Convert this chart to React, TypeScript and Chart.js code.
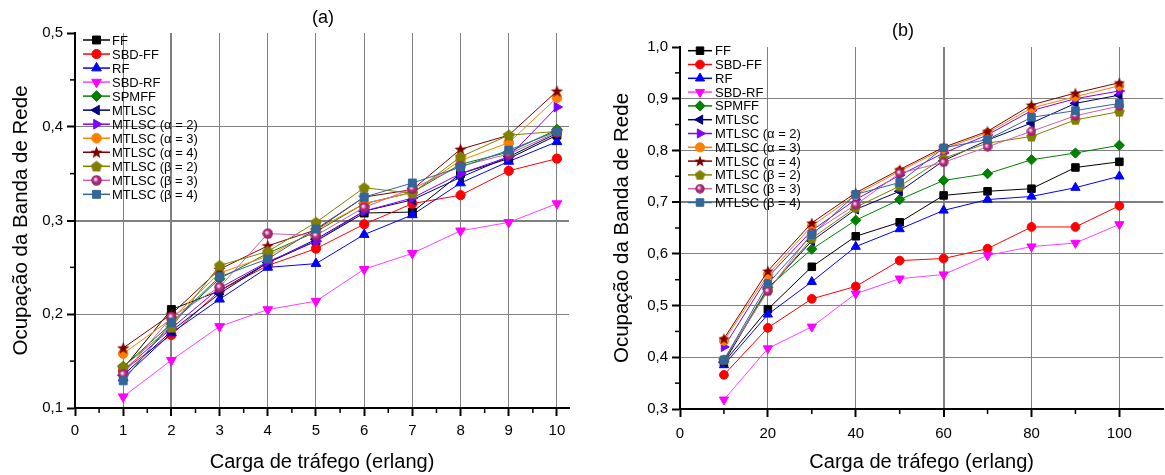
import React, { useEffect, useRef } from 'react';
import { Chart, registerables } from 'chart.js';
import { drawPoint } from 'chart.js/helpers';

Chart.register(...registerables);
Chart.defaults.font.family = "'Liberation Sans', Arial, sans-serif";
Chart.defaults.color = '#000';

// ---------- data ----------
const seriesNames = [
  'FF', 'SBD-FF', 'RF', 'SBD-RF', 'SPMFF', 'MTLSC',
  'MTLSC (α = 2)', 'MTLSC (α = 3)', 'MTLSC (α = 4)',
  'MTLSC (β = 2)', 'MTLSC (β = 3)', 'MTLSC (β = 4)',
];

// (a) load in erlang
const loadA = [1, 2, 3, 4, 5, 6, 7, 8, 9, 10];
const aFF = [0.142, 0.205, 0.225, 0.255, 0.278, 0.308, 0.309, 0.350, 0.366, 0.391];
const aSBDFF = [0.140, 0.178, 0.225, 0.252, 0.270, 0.296, 0.318, 0.327, 0.353, 0.366];
const aRF = [0.132, 0.180, 0.216, 0.250, 0.254, 0.285, 0.306, 0.340, 0.363, 0.384];
const aSBDRF = [0.112, 0.151, 0.187, 0.205, 0.214, 0.248, 0.265, 0.289, 0.298, 0.318];
const aSPMFF = [0.144, 0.190, 0.238, 0.265, 0.288, 0.318, 0.330, 0.360, 0.373, 0.397];
const aMTLSC = [0.135, 0.182, 0.222, 0.255, 0.280, 0.310, 0.322, 0.346, 0.368, 0.393];
const aAlpha2 = [0.140, 0.185, 0.228, 0.256, 0.278, 0.310, 0.324, 0.350, 0.368, 0.421];
const aAlpha3 = [0.158, 0.195, 0.244, 0.262, 0.290, 0.318, 0.330, 0.364, 0.383, 0.431];
const aAlpha4 = [0.164, 0.200, 0.248, 0.273, 0.290, 0.325, 0.333, 0.376, 0.391, 0.438];
const aBeta2 = [0.144, 0.186, 0.252, 0.267, 0.298, 0.335, 0.329, 0.368, 0.391, 0.395];
const aBeta3 = [0.136, 0.197, 0.229, 0.286, 0.284, 0.314, 0.334, 0.358, 0.371, 0.394];
const aBeta4 = [0.129, 0.191, 0.240, 0.259, 0.291, 0.325, 0.340, 0.357, 0.375, 0.395];

// (b) load in erlang
const loadB = [10, 20, 30, 40, 50, 60, 70, 80, 90, 100];
const bFF = [0.390, 0.493, 0.575, 0.634, 0.661, 0.713, 0.721, 0.726, 0.767, 0.778];
const bSBDFF = [0.366, 0.457, 0.513, 0.537, 0.587, 0.591, 0.610, 0.652, 0.652, 0.693];
const bRF = [0.385, 0.483, 0.546, 0.614, 0.648, 0.684, 0.705, 0.711, 0.728, 0.750];
const bSBDRF = [0.318, 0.417, 0.459, 0.523, 0.552, 0.560, 0.597, 0.614, 0.621, 0.657];
const bSPMFF = [0.392, 0.535, 0.609, 0.665, 0.705, 0.742, 0.755, 0.782, 0.795, 0.810];
const bMTLSC = [0.390, 0.532, 0.625, 0.686, 0.721, 0.780, 0.820, 0.853, 0.891, 0.907];
const bAlpha2 = [0.420, 0.555, 0.645, 0.705, 0.752, 0.795, 0.830, 0.877, 0.900, 0.915];
const bAlpha3 = [0.432, 0.560, 0.654, 0.714, 0.760, 0.803, 0.834, 0.882, 0.904, 0.925];
const bAlpha4 = [0.436, 0.567, 0.660, 0.718, 0.763, 0.806, 0.837, 0.888, 0.911, 0.931];
const bBeta2 = [0.395, 0.530, 0.630, 0.690, 0.731, 0.785, 0.814, 0.827, 0.859, 0.875];
const bBeta3 = [0.395, 0.528, 0.640, 0.695, 0.756, 0.777, 0.807, 0.837, 0.867, 0.886];
const bBeta4 = [0.395, 0.542, 0.637, 0.715, 0.738, 0.805, 0.821, 0.864, 0.877, 0.891];

// tick labels
const ticksAX = [0, 1, 2, 3, 4, 5, 6, 7, 8, 9, 10];
const ticksAY = [0.1, 0.2, 0.3, 0.4, 0.5];
const minorAX = [0.5, 1.5, 2.5, 3.5, 4.5, 5.5, 6.5, 7.5, 8.5, 9.5];
const minorAY = [0.15, 0.25, 0.35, 0.45];
const ticksBX = [0, 20, 40, 60, 80, 100];
const ticksBY = [0.3, 0.4, 0.5, 0.6, 0.7, 0.8, 0.9, 1.0];
const minorBX = [10, 30, 50, 70, 90];
const minorBY = [0.35, 0.45, 0.55, 0.65, 0.75, 0.85, 0.95];

const seriesA = [aFF, aSBDFF, aRF, aSBDRF, aSPMFF, aMTLSC, aAlpha2, aAlpha3, aAlpha4, aBeta2, aBeta3, aBeta4];
const seriesB = [bFF, bSBDFF, bRF, bSBDRF, bSPMFF, bMTLSC, bAlpha2, bAlpha3, bAlpha4, bBeta2, bBeta3, bBeta4];

// ---------- styles ----------
const markerColors = ['#000000', '#ff0000', '#0000ff', '#ff00ff', '#008000', '#000080', '#8000ff', '#ff8000', '#800000', '#808000', '#b8307f', '#336699'];
const lineColors = ['#000000', '#ff0000', '#0000ff', '#ff40ff', '#008000', '#000080', '#8000ff', '#ff8000', '#800000', '#808000', '#d060a8', '#336699'];

function makeStar(color: string, size: number) {
  const c = document.createElement('canvas');
  c.width = size; c.height = size;
  const g = c.getContext('2d')!;
  const cx = size / 2, cy = size / 2 + 0.5, R = size / 2, r = R * 0.42;
  g.beginPath();
  for (let k = 0; k < 10; k++) {
    const rad = -Math.PI / 2 + (k * Math.PI) / 5;
    const rr = k % 2 === 0 ? R : r;
    const px = cx + Math.cos(rad) * rr, py = cy + Math.sin(rad) * rr;
    if (k === 0) g.moveTo(px, py); else g.lineTo(px, py);
  }
  g.closePath();
  g.fillStyle = color; g.fill();
  return c;
}
function makePentagon(color: string, size: number) {
  const c = document.createElement('canvas');
  c.width = size; c.height = size;
  const g = c.getContext('2d')!;
  const cx = size / 2, cy = size / 2 + 0.5, R = size / 2;
  g.beginPath();
  for (let k = 0; k < 5; k++) {
    const rad = -Math.PI / 2 + (k * 2 * Math.PI) / 5;
    const px = cx + Math.cos(rad) * R, py = cy + Math.sin(rad) * R;
    if (k === 0) g.moveTo(px, py); else g.lineTo(px, py);
  }
  g.closePath();
  g.fillStyle = color; g.fill();
  return c;
}
function makeSphere(color: string, size: number) {
  const c = document.createElement('canvas');
  c.width = size; c.height = size;
  const g = c.getContext('2d')!;
  const R = size / 2;
  const grad = g.createRadialGradient(R - 1.3, R - 1.3, 0.2, R, R, R);
  grad.addColorStop(0, '#ffffff');
  grad.addColorStop(0.18, '#f0b0d8');
  grad.addColorStop(0.45, color);
  grad.addColorStop(1, '#8a1f5c');
  g.beginPath(); g.arc(R, R, R - 0.3, 0, Math.PI * 2);
  g.fillStyle = grad; g.fill();
  return c;
}

type Marker = { style: any; rotation: number; radius: number };
function buildMarkers(k: number): Marker[] {
  const img = Math.round(12 * k);
  return [
    { style: 'rect', rotation: 0, radius: 5.6 * k },
    { style: 'circle', rotation: 0, radius: 4.6 * k },
    { style: 'triangle', rotation: 0, radius: 5.6 * k },
    { style: 'triangle', rotation: 180, radius: 5.6 * k },
    { style: 'rectRot', rotation: 0, radius: 5.4 * k },
    { style: 'triangle', rotation: 270, radius: 5.6 * k },
    { style: 'triangle', rotation: 90, radius: 5.6 * k },
    { style: 'circle', rotation: 0, radius: 4.8 * k },
    { style: makeStar(markerColors[8], img + 1), rotation: 0, radius: 6 * k },
    { style: makePentagon(markerColors[9], img), rotation: 0, radius: 6 * k },
    { style: makeSphere(markerColors[10], img - 1), rotation: 0, radius: 5 * k },
    { style: 'rect', rotation: 0, radius: 5.6 * k },
  ];
}

type Cfg = {
  title: string; titleX: number; titleY: number;
  xs: number[]; series: number[][];
  xMin: number; xMax: number; yMin: number; yMax: number;
  ticksX: number[]; ticksY: number[]; minorX: number[]; minorY: number[];
  thickX: number; thickY: number;
  padTop: number; padRight: number; yWidth: number; xHeight: number;
  yTitlePad: number; xTitlePad: number; xTickPad: number;
  legendX: number; legendY: number; legendDy: number; legendLen: number; legendTextX: number;
  markerScale: number;
};

function fmtY(v: number) { return Number(v).toFixed(1).replace('.', ','); }

function makeChart(canvas: HTMLCanvasElement, cfg: Cfg) {
  const markers = buildMarkers(cfg.markerScale);
  const n = seriesNames.length;
  const datasets = cfg.series.map((vals, i) => ({
    label: seriesNames[i],
    data: cfg.xs.map((xv, j) => ({ x: xv, y: vals[j] })),
    borderColor: lineColors[i],
    backgroundColor: markerColors[i],
    pointBackgroundColor: markerColors[i],
    pointBorderColor: markerColors[i],
    pointBorderWidth: 1,
    borderWidth: 1,
    pointStyle: markers[i].style,
    pointRotation: markers[i].rotation,
    pointRadius: markers[i].radius,
    order: n - i,
    tension: 0,
  }));

  const overlay = {
    id: 'overlay' + cfg.title,
    afterDraw(chart: any) {
      const ctx = chart.ctx as CanvasRenderingContext2D;
      const xs = chart.scales.x, ys = chart.scales.y;
      const area = chart.chartArea;
      ctx.save();
      // minor ticks
      ctx.strokeStyle = '#000';
      ctx.lineWidth = 1.5;
      cfg.minorX.forEach((v) => {
        const px = xs.getPixelForValue(v);
        ctx.beginPath(); ctx.moveTo(px, area.bottom + 1); ctx.lineTo(px, area.bottom + 5); ctx.stroke();
      });
      cfg.minorY.forEach((v) => {
        const py = ys.getPixelForValue(v);
        ctx.beginPath(); ctx.moveTo(area.left - 1, py); ctx.lineTo(area.left - 5, py); ctx.stroke();
      });
      // title
      ctx.fillStyle = '#000';
      ctx.font = "18px 'Liberation Sans', Arial, sans-serif";
      ctx.textAlign = 'center';
      ctx.textBaseline = 'middle';
      ctx.fillText(cfg.title, cfg.titleX, cfg.titleY);
      // legend
      ctx.font = "13px 'Liberation Sans', Arial, sans-serif";
      ctx.textAlign = 'left';
      seriesNames.forEach((name, i) => {
        const y = cfg.legendY + i * cfg.legendDy;
        ctx.strokeStyle = lineColors[i];
        ctx.lineWidth = 1.5;
        ctx.beginPath(); ctx.moveTo(cfg.legendX, y); ctx.lineTo(cfg.legendX + cfg.legendLen, y); ctx.stroke();
        ctx.fillStyle = markerColors[i];
        ctx.strokeStyle = markerColors[i];
        ctx.lineWidth = 1;
        drawPoint(ctx, { pointStyle: markers[i].style, rotation: markers[i].rotation, radius: markers[i].radius, borderWidth: 1 } as any, cfg.legendX + cfg.legendLen / 2, y);
        ctx.fillStyle = '#000';
        ctx.fillText(name, cfg.legendTextX, y + 1);
      });
      ctx.restore();
    },
  };

  return new Chart(canvas, {
    type: 'line',
    data: { datasets: datasets as any },
    plugins: [overlay],
    options: {
      animation: false,
      responsive: false,
      events: [],
      layout: { padding: { top: cfg.padTop, right: cfg.padRight, left: 0, bottom: 0 } },
      plugins: { legend: { display: false }, tooltip: { enabled: false }, title: { display: false } },
      scales: {
        x: {
          type: 'linear',
          min: cfg.xMin,
          max: cfg.xMax,
          afterBuildTicks: (s: any) => { s.ticks = cfg.ticksX.map((v) => ({ value: v })); },
          afterFit: (s: any) => { s.height = cfg.xHeight; },
          border: { display: true, color: '#000', width: 2 },
          grid: {
            color: (c: any) => (c.tick && (c.tick.value === cfg.xMin) ? 'rgba(0,0,0,0)' : '#808080'),
            lineWidth: (c: any) => (c.tick && c.tick.value === cfg.thickX ? 2 : 1),
            drawTicks: true,
            tickLength: 8,
            tickColor: '#000',
            tickWidth: 2,
          },
          ticks: {
            autoSkip: false,
            maxRotation: 0,
            padding: cfg.xTickPad,
            font: { size: 15 },
            color: '#000',
            callback: (v: any) => String(v),
          },
          title: {
            display: true,
            text: 'Carga de tráfego (erlang)',
            font: { size: 20 },
            color: '#000',
            padding: { top: 0, bottom: cfg.xTitlePad },
          },
        },
        y: {
          type: 'linear',
          min: cfg.yMin,
          max: cfg.yMax,
          afterBuildTicks: (s: any) => { s.ticks = cfg.ticksY.map((v) => ({ value: v })); },
          afterFit: (s: any) => { s.width = cfg.yWidth; },
          border: { display: true, color: '#000', width: 2 },
          grid: {
            color: (c: any) => (c.tick && (c.tick.value === cfg.yMin || c.tick.value === cfg.yMax) ? 'rgba(0,0,0,0)' : '#808080'),
            lineWidth: (c: any) => (c.tick && c.tick.value === cfg.thickY ? 2 : 1),
            drawTicks: true,
            tickLength: 8,
            tickColor: '#000',
            tickWidth: 2,
          },
          ticks: {
            autoSkip: false,
            padding: 4,
            font: { size: 15 },
            color: '#000',
            callback: (v: any) => fmtY(v),
          },
          title: {
            display: true,
            text: 'Ocupação da Banda de Rede',
            font: { size: 20.5 },
            color: '#000',
            padding: { top: cfg.yTitlePad, bottom: 0 },
          },
        },
      },
    } as any,
  });
}

const cfgA: Cfg = {
  title: '(a)', titleX: 323, titleY: 18,
  xs: loadA, series: seriesA,
  xMin: 0, xMax: 10.25, yMin: 0.1, yMax: 0.5,
  ticksX: ticksAX, ticksY: ticksAY, minorX: minorAX, minorY: minorAY,
  thickX: 2, thickY: 0.3,
  padTop: 33, padRight: 11, yWidth: 75, xHeight: 67,
  yTitlePad: 9.5, xTitlePad: 1, xTickPad: 6,
  legendX: 83, legendY: 40, legendDy: 14.03, legendLen: 27, legendTextX: 112,
  markerScale: 1,
};

const cfgB: Cfg = {
  title: '(b)', titleX: 303, titleY: 31,
  xs: loadB, series: seriesB,
  xMin: 0, xMax: 110, yMin: 0.3, yMax: 1.0,
  ticksX: ticksBX, ticksY: ticksBY, minorX: minorBX, minorY: minorBY,
  thickX: 60, thickY: 0.7,
  padTop: 47, padRight: 3, yWidth: 80, xHeight: 66,
  yTitlePad: 10.5, xTitlePad: 1, xTickPad: 8,
  legendX: 88, legendY: 50.7, legendDy: 13.8, legendLen: 24, legendTextX: 115,
  markerScale: 0.95,
};

export default function App() {
  const refA = useRef<HTMLCanvasElement>(null);
  const refB = useRef<HTMLCanvasElement>(null);
  useEffect(() => {
    const ca = makeChart(refA.current!, cfgA);
    const cb = makeChart(refB.current!, cfgB);
    return () => { ca.destroy(); cb.destroy(); };
  }, []);
  return (
    <div style={{ position: 'absolute', left: 0, top: 0, width: 1165, height: 475, overflow: 'hidden', background: '#fff' }}>
      <canvas ref={refA} width={580} height={475} style={{ position: 'absolute', left: 0, top: 0, width: 580, height: 475 }} />
      <canvas ref={refB} width={570} height={475} style={{ position: 'absolute', left: 600, top: 0, width: 570, height: 475 }} />
    </div>
  );
}
